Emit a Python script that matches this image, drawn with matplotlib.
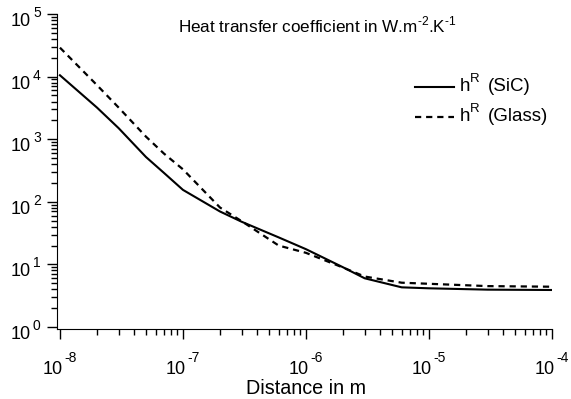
import matplotlib
matplotlib.use('Agg')
import matplotlib.pyplot as plt
from matplotlib.lines import Line2D
from matplotlib.ticker import NullFormatter

# distance (m)
dist = [1e-8, 2e-8, 3e-8, 5e-8, 7e-8, 1e-7, 2e-7, 3e-7, 6e-7, 1e-6,
        2e-6, 3e-6, 6e-6, 1e-5, 3e-5, 1e-4]
# h^R for SiC (solid)
h_sic = [1.05e4, 3.2e3, 1.5e3, 5.2e2, 2.9e2, 1.55e2, 70, 48, 27, 17.5,
         9.0, 6.0, 4.3, 4.15, 3.95, 3.9]
# h^R for glass (dashed)
h_glass = [2.9e4, 7.3e3, 3.2e3, 1.1e3, 5.9e2, 3.3e2, 81, 49, 20, 15.3,
           8.9, 6.4, 5.1, 4.9, 4.5, 4.4]

x_exps = [-8, -7, -6, -5, -4]
y_exps = [0, 1, 2, 3, 4, 5]
materials = ['(SiC)', '(Glass)']

plt.rcParams['font.family'] = 'Liberation Sans'
plt.rcParams['mathtext.fontset'] = 'custom'
plt.rcParams['mathtext.rm'] = 'Liberation Sans'

W, H = 571, 399
fig = plt.figure(figsize=(W/100, H/100), dpi=100)
ax = fig.add_axes([57/W, 70/H, 495/W, 315/H])
ax.set_xscale('log')
ax.set_yscale('log')

ax.plot(dist, h_sic, color='k', lw=1.5)
ax.plot(dist, h_glass, color='k', lw=1.6, ls=(0, (2.8, 2.2)))

ax.set_xlim(10**-8.024, 1e-4)
ax.set_ylim(10**-0.032, 1e5)
ax.spines['top'].set_visible(False)
ax.spines['right'].set_visible(False)
ax.tick_params(which='major', length=7, width=1)
ax.tick_params(which='minor', length=4, width=1)
for axis in (ax.xaxis, ax.yaxis):
    axis.set_major_formatter(NullFormatter())
    axis.set_minor_formatter(NullFormatter())

# tick labels: "10" plus a raised exponent with a plain hyphen
px = 0.72  # points per pixel
for e in x_exps:
    ax.annotate('10', xy=(10**e, 0), xycoords=('data', 'axes fraction'),
                xytext=(3*px, -45*px), textcoords='offset points',
                ha='right', va='baseline', fontsize=13)
    ax.annotate(str(e), xy=(10**e, 0), xycoords=('data', 'axes fraction'),
                xytext=(4*px, -33*px), textcoords='offset points',
                ha='left', va='baseline', fontsize=10)
for e in y_exps:
    ax.annotate('10', xy=(0, 10**e), xycoords=('axes fraction', 'data'),
                xytext=(-26*px, -12*px), textcoords='offset points',
                ha='right', va='baseline', fontsize=13)
    ax.annotate(str(e), xy=(0, 10**e), xycoords=('axes fraction', 'data'),
                xytext=(-24*px, -3*px), textcoords='offset points',
                ha='left', va='baseline', fontsize=10)

fig.text(306/W, 1 - 393.5/H, 'Distance in m', ha='center', va='baseline',
         fontsize=14.2)
fig.text(317/W, 1 - 32/H, r'Heat transfer coefficient in W.m$^{\text{-2}}$.K$^{\text{-1}}$',
         ha='center', va='baseline', fontsize=12.3)

# legend
styles = ['-', (0, (2.8, 2.2))]
for i, (mat, ls) in enumerate(zip(materials, styles)):
    yp = [87, 117][i]
    y = 1 - yp/H
    fig.add_artist(Line2D([415/W, 454/W], [y, y], color='k',
                          lw=1.5 if i == 0 else 1.6, ls=ls))
    fig.text(460/W, 1 - (yp + 4)/H, 'h', ha='left', va='baseline', fontsize=13.5)
    fig.text(470/W, 1 - (yp - 5)/H, 'R', ha='left', va='baseline', fontsize=9.5)
    fig.text(488/W, 1 - (yp + 4)/H, mat, ha='left', va='baseline', fontsize=13.5)

fig.savefig('out.png', dpi=100)
